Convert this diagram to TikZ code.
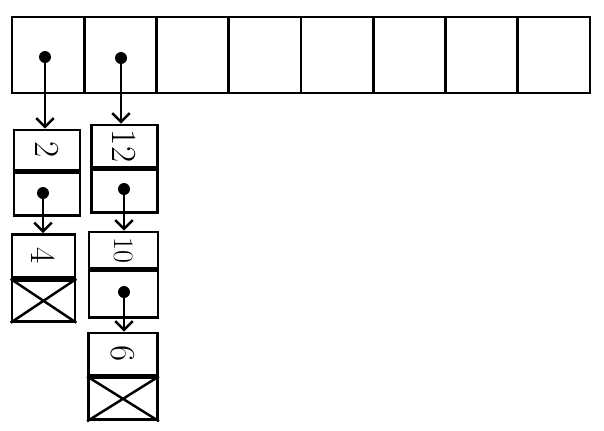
\documentclass[tikz,border=0pt]{standalone}
\usepackage{tikz}
\usetikzlibrary{arrows.meta,positioning,calc}
\tikzset{
    slot/.style={draw, rectangle, line width=1.6pt, minimum width=1.445cm, minimum height=1.52cm, inner sep=0pt},
    valbox/.style={draw, rectangle, line width=1.6pt, minimum width=1.32cm, inner sep=0pt, font=\fontsize{20}{22}\selectfont},
    ptrbox/.style={draw, rectangle, line width=1.6pt, minimum width=1.32cm, inner sep=0pt},
    dot/.style={circle, fill=black, minimum size=0.24cm, inner sep=0pt},
    ptrArrow/.style={line width=1.6pt, -{Straight Barb[length=5pt,width=10pt,line width=1.4pt]}},
    nullX/.style={line width=1.4pt},
}

\begin{document}
\begin{tikzpicture}[x=0.02cm, y=-0.02cm]
\useasboundingbox (0,0) rectangle (604,430);

% the table
\foreach \i in {0,...,7} {
    \node[slot] (s\i) at ({12+36.1+72.25*\i}, 55) {};
}
\node[dot] (d0) at (45,57) {};
\node[dot] (d1) at (121,58) {};

% chain of slot 0
\node[valbox, minimum height=0.8cm] (v2) at (47,150) {\rotatebox{-90}{2}};
\node[ptrbox, minimum height=0.86cm, below=0pt of v2] (p2) {};
\node[dot] (d2) at (43,193) {};
\node[valbox, minimum width=1.26cm, minimum height=0.86cm] (v4) at (43.5,256) {\rotatebox{-90}{4}};
\node[ptrbox, minimum width=1.26cm, minimum height=0.82cm, below=0pt of v4] (p4) {};
\draw[nullX] (p4.north west) -- (p4.south east) (p4.south west) -- (p4.north east);

% chain of slot 1
\node[valbox, minimum height=0.84cm] (v12) at (124.5,146) {\rotatebox{-90}{12}};
\node[ptrbox, minimum height=0.86cm, below=0pt of v12] (p12) {};
\node[dot] (d12) at (124,189) {};
\node[valbox, minimum width=1.38cm, minimum height=0.72cm, font=\fontsize{16}{18}\selectfont] (v10) at (123.5,250) {\rotatebox{-90}{10}};
\node[ptrbox, minimum width=1.38cm, minimum height=0.94cm, below=0pt of v10] (p10) {};
\node[dot] (d10) at (124,292) {};
\node[valbox, minimum width=1.38cm, minimum height=0.84cm] (v6) at (123,354) {\rotatebox{-90}{6}};
\node[ptrbox, minimum width=1.38cm, minimum height=0.84cm, below=0pt of v6] (p6) {};
\draw[nullX] (p6.north west) -- (p6.south east) (p6.south west) -- (p6.north east);

% pointers
\draw[ptrArrow] (d0.center) -- (d0 |- v2.north);
\draw[ptrArrow] (d1.center) -- (d1 |- v12.north);
\draw[ptrArrow] (d2.center) -- (d2 |- v4.north);
\draw[ptrArrow] (d12.center) -- (d12 |- v10.north);
\draw[ptrArrow] (d10.center) -- (d10 |- v6.north);

\end{tikzpicture}
\end{document}
